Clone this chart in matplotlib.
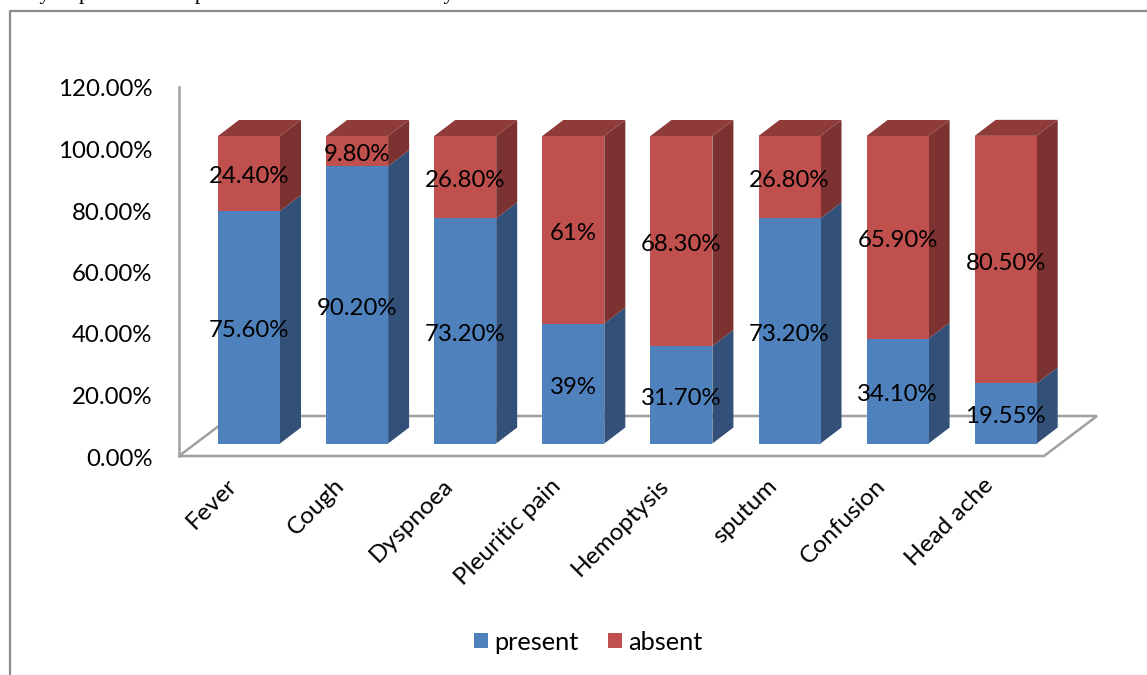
import matplotlib
matplotlib.use('Agg')
import matplotlib.pyplot as plt
from matplotlib.patches import Polygon
from matplotlib.transforms import ScaledTranslation

plt.rcParams['font.family'] = ['Lato', 'DejaVu Sans']

categories = ['Fever', 'Cough', 'Dyspnoea', 'Pleuritic pain', 'Hemoptysis',
              'sputum', 'Confusion', 'Head ache']
present = [75.6, 90.2, 73.2, 39, 31.7, 73.2, 34.1, 19.55]
absent = [24.4, 9.8, 26.8, 61, 68.3, 26.8, 65.9, 80.5]
present_labels = ['75.60%', '90.20%', '73.20%', '39%', '31.70%', '73.20%', '34.10%', '19.55%']
absent_labels = ['24.40%', '9.80%', '26.80%', '61%', '68.30%', '26.80%', '65.90%', '80.50%']
y_ticks = [0, 20, 40, 60, 80, 100, 120]

W, H = 1147, 675
BLUE, BLUE_SIDE = '#4f81bd', '#325078'
RED, RED_SIDE, RED_TOP = '#c0504d', '#7b3230', '#8e3b39'
GREY = '#a0a0a0'
FS = 17.3

fig = plt.figure(figsize=(W / 100, H / 100), dpi=100)
ax = fig.add_axes([179 / W, 1 - 456 / H, 865 / W, 369 / H])
ax.patch.set_alpha(0)

# category 0 sits at px 249, 108.1 px between categories
ax.set_xlim((179 - 249) / 108.1, (1044 - 249) / 108.1)
ax.set_ylim(0, 120)

px_x = 1 / 108.1
px_y = 120 / 369
bar_w = 62 * px_x
lift = 12.5 * px_y       # front of the bars stands above the front floor edge
depth_x = 21 * px_x
depth_y = 16 * px_y

# floor of the 3d box
x0, x1 = ax.get_xlim()
ax.add_patch(Polygon([(x0, 0), (x1, 0), (x1 + 53 * px_x, 40 * px_y), (x0 + 53 * px_x, 40 * px_y)],
                     closed=True, facecolor='white', edgecolor=GREY, lw=1.8,
                     clip_on=False, zorder=1))

xs = list(range(len(categories)))
bars1 = ax.bar(xs, present, bar_w, bottom=lift, color=BLUE, label='present', zorder=3)
bottoms = [lift + p for p in present]
bars2 = ax.bar(xs, absent, bar_w, bottom=bottoms, color=RED, label='absent', zorder=3)

# side and top faces
for x, p, a in zip(xs, present, absent):
    r = x + bar_w / 2
    l = x - bar_w / 2
    top = lift + p + a
    ax.add_patch(Polygon([(r, lift), (r, lift + p), (r + depth_x, lift + p + depth_y), (r + depth_x, lift + depth_y)],
                         color=BLUE_SIDE, lw=0, clip_on=False, zorder=2))
    ax.add_patch(Polygon([(r, lift + p), (r, top), (r + depth_x, top + depth_y), (r + depth_x, lift + p + depth_y)],
                         color=RED_SIDE, lw=0, clip_on=False, zorder=2))
    ax.add_patch(Polygon([(l, top), (r, top), (r + depth_x, top + depth_y), (l + depth_x, top + depth_y)],
                         color=RED_TOP, lw=0, clip_on=False, zorder=2))

texts = ax.bar_label(bars1, labels=present_labels, label_type='center', fontsize=FS, zorder=5)
texts += ax.bar_label(bars2, labels=absent_labels, label_type='center', fontsize=FS, zorder=5)
for t in texts:
    t.xyann = (0, -2.5)

ax.set_yticks(y_ticks)
ax.set_yticklabels(['%.2f%%' % v for v in y_ticks], fontsize=FS)
ax.tick_params(axis='y', length=0, pad=19)
down = ScaledTranslation(0, -1 / 100, fig.dpi_scale_trans)
for t in ax.get_yticklabels():
    t.set_transform(t.get_transform() + down)

ax.set_xticks(xs)
ax.set_xticklabels(categories, rotation=45, ha='right', rotation_mode='anchor', fontsize=17.6)
ax.tick_params(axis='x', length=0, pad=13.5)
shift = ScaledTranslation(-23 / 100, 0, fig.dpi_scale_trans)
for t in ax.get_xticklabels():
    t.set_transform(t.get_transform() + shift)

for s in ['top', 'right', 'bottom']:
    ax.spines[s].set_visible(False)
ax.spines['left'].set_color(GREY)
ax.spines['left'].set_linewidth(1.8)

ax.legend(loc='center', bbox_to_anchor=(588 / W, 1 - 642 / H), bbox_transform=fig.transFigure,
          ncol=2, frameon=False, fontsize=18.3, handlelength=0.55, handleheight=0.55,
          handletextpad=0.25, columnspacing=1.15, borderpad=0)

# outer chart frame, runs off the page to the right and bottom
fig.add_artist(plt.Line2D([9.5 / W, 9.5 / W, 1], [0, 1 - 10.5 / H, 1 - 10.5 / H], color='#8c8c8c', lw=1.6))

# line of body text cut off by the top of the page, only the descenders show
fig.text(0, 1 + 1 / H, 'Study of patients with pneumonia and other cases by', family='Liberation Serif',
         fontsize=15.5, va='baseline', ha='left')

fig.savefig('out.png', dpi=100)
